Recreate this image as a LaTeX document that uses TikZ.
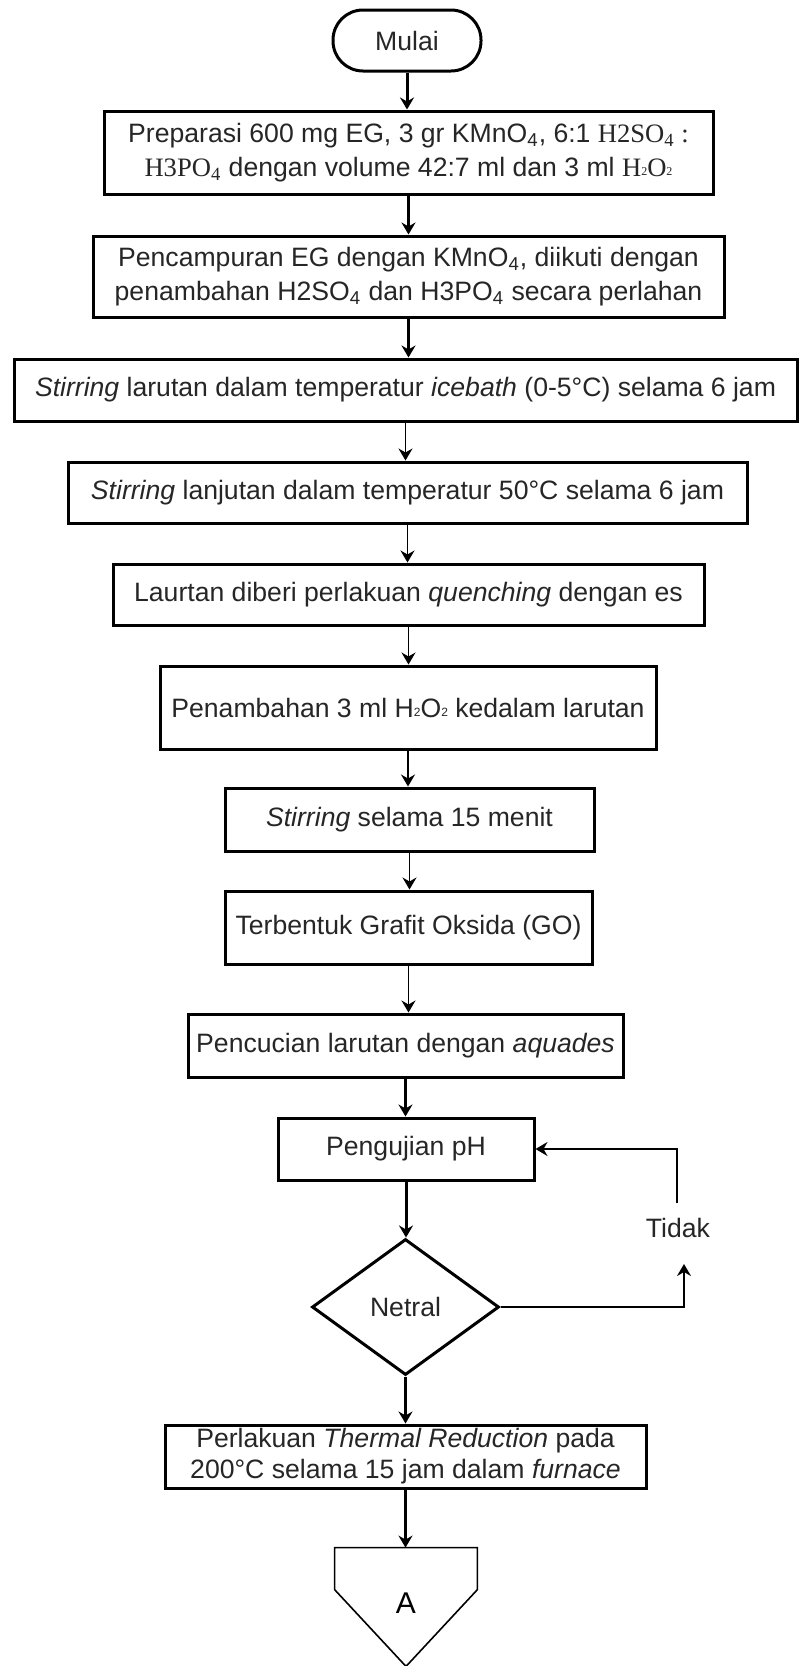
\documentclass[tikz,border=0pt]{standalone}
\usepackage{fontspec}
\setmainfont{Liberation Sans}
\newfontfamily\serifpart{Liberation Serif}
\usetikzlibrary{shapes.geometric,arrows.meta}

% subscript digit and the tiny "2" used in H2O2
\newcommand\lowsub[1]{\textsubscript{#1}}
\newcommand\tinytwo{\raisebox{0.05ex}{\fontsize{6}{6}\selectfont 2}}

\begin{document}
\begin{tikzpicture}[x=0.5pt,y=-0.5pt,
  every node/.style={font=\fontsize{13.3}{17}\selectfont, text=black!85, inner sep=0pt},
  stepbox/.style={draw=black, line width=1.5pt, align=center},
  flow/.style={-{Stealth[length=6pt,width=7pt,inset=2pt]}, line width=1.5pt, draw=black},
  flowthin/.style={flow, line width=0.8pt},
]
\fill[white] (0,0) rectangle (799,1666);
\useasboundingbox (0,0) rectangle (799,1666);

% start terminal
\node[draw=black, line width=1.5pt, rounded corners=15pt, minimum width=74pt, minimum height=30.5pt] (start) at (407,40.5) {Mulai};

% process steps
\node[stepbox, minimum width=609*0.5pt, minimum height=83*0.5pt] (b1) at (408.5,152.5)
  {Preparasi 600 mg EG, 3 gr KMnO\lowsub{4}, 6:1 {\serifpart H2SO\lowsub{4} :}\\
   {\serifpart H3PO\lowsub{4}} dengan volume 42:7 ml dan 3 ml {\serifpart H\tinytwo O\tinytwo}};
\node[stepbox, minimum width=631*0.5pt, minimum height=81*0.5pt] (b2) at (408.5,276.5)
  {Pencampuran EG dengan KMnO\lowsub{4}, diikuti dengan\\
   penambahan H2SO\lowsub{4} dan H3PO\lowsub{4} secara perlahan};
\node[stepbox, minimum width=783*0.5pt, minimum height=62*0.5pt] (b3) at (405.5,390)
  {\emph{Stirring} larutan dalam temperatur \emph{icebath} (0-5°C) selama 6 jam};
\node[stepbox, minimum width=679*0.5pt, minimum height=61*0.5pt] (b4) at (407.5,492.5)
  {\emph{Stirring} lanjutan dalam temperatur 50°C selama 6 jam};
\node[stepbox, minimum width=591*0.5pt, minimum height=61*0.5pt] (b5) at (408.5,594.5)
  {Laurtan diberi perlakuan \emph{quenching} dengan es};
\node[stepbox, minimum width=496*0.5pt, minimum height=83*0.5pt] (b6) at (408,707.5)
  {Penambahan 3 ml H\tinytwo O\tinytwo{} kedalam larutan};
\node[stepbox, minimum width=369*0.5pt, minimum height=63*0.5pt] (b7) at (409.5,819.5)
  {\emph{Stirring} selama 15 menit};
\node[stepbox, minimum width=367*0.5pt, minimum height=73*0.5pt] (b8) at (408.5,927.5)
  {Terbentuk Grafit Oksida (GO)};
\node[stepbox, minimum width=435*0.5pt, minimum height=63*0.5pt] (b9) at (405.5,1045.5)
  {Pencucian larutan dengan \emph{aquades}};
\node[stepbox, minimum width=256*0.5pt, minimum height=62*0.5pt] (b10) at (406,1149)
  {Pengujian pH};

% decision
\node[draw=black, diamond, line width=1.5pt, minimum width=93.5pt, minimum height=68pt] (dec) at (405.5,1307) {Netral};

\node[stepbox, minimum width=481*0.5pt, minimum height=63*0.5pt, font=\fontsize{13.3}{15.5}\selectfont] (b11) at (405.5,1456.5)
  {Perlakuan \emph{Thermal Reduction} pada\\200°C selama 15 jam dalam \emph{furnace}};

% off-page connector
\node[minimum width=71pt, minimum height=59pt, font=\fontsize{15}{15}\selectfont, text=black] (conn) at (406,1607) {\raisebox{3.5pt}{A}};
\draw[line width=0.8pt] (conn.north west) -- (conn.north east) -- ([yshift=-21pt]conn.north east)
  -- (conn.south) -- ([yshift=-21pt]conn.north west) -- cycle;

% "Tidak" loop label
\node (no) at (678,1228) {Tidak};
\coordinate (noin) at (684,1264);
\coordinate (noout) at (677,1203);

% main flow
\draw[flow] (start.south) -- (start.south |- b1.north);
\draw[flow] (b1.south) -- (b1.south |- b2.north);
\draw[flow] (b2.south) -- (b2.south |- b3.north);
\draw[flowthin] (b3.south) -- (b3.south |- b4.north);
\draw[flowthin] (b4.south) -- (b4.south |- b5.north);
\draw[flowthin] (b5.south) -- (b5.south |- b6.north);
\draw[flowthin] (b6.south) -- (b6.south |- b7.north);
\draw[flowthin] (b7.south) -- (b7.south |- b8.north);
\draw[flowthin] (b8.south) -- (b8.south |- b9.north);
\draw[flow] (b9.south) -- (b9.south |- b10.north);
\draw[flow] (b10.south) -- (b10.south |- dec.north);
\draw[flow] (dec.south) -- (dec.south |- b11.north);
\draw[flow] (b11.south) -- (b11.south |- conn.north);

% loop back when not neutral
\draw[flowthin] (dec.east) -| (noin);
\draw[flowthin] (noout) |- (b10.east);
\end{tikzpicture}
\end{document}
